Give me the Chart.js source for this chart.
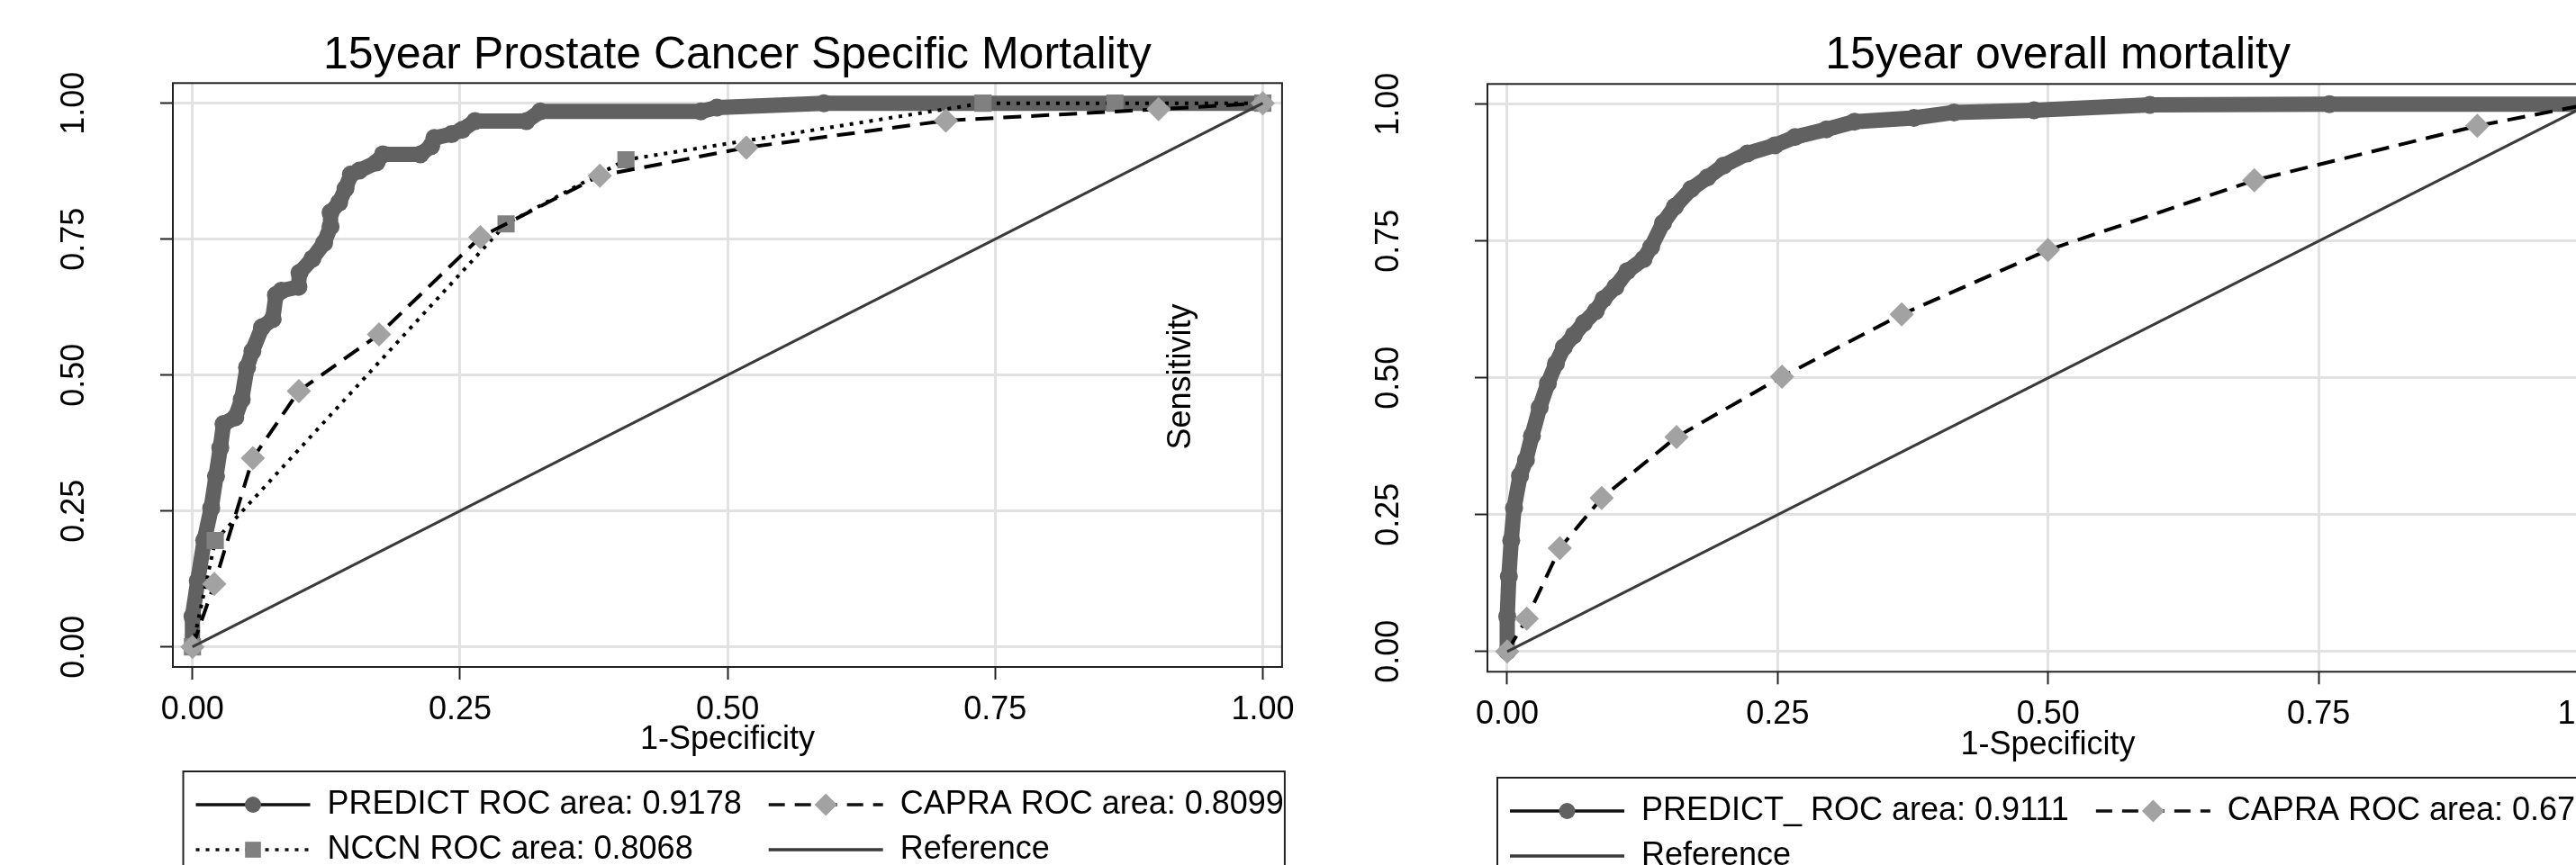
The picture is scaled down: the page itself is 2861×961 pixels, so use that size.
<!DOCTYPE html>
<html>
<head>
<meta charset="utf-8">
<title>ROC curves</title>
<script src="https://cdn.jsdelivr.net/npm/chart.js@4.4.1/dist/chart.umd.min.js"></script>
<style>
  html, body { margin: 0; padding: 0; background: #fff; }
  body { width: 2861px; height: 961px; overflow: hidden; position: relative; }
  canvas { position: absolute; top: 0; }
  #pcsm { left: 0; }
  #overall { left: 1460px; }
</style>
</head>
<body>
<canvas id="pcsm" width="1450" height="961"></canvas>
<canvas id="overall" width="1463" height="961"></canvas>
<script>
// axis ticks, same on both panels and both axes
const tickValues = [0, 0.25, 0.5, 0.75, 1];
const tickLabels = ['0.00', '0.25', '0.50', '0.75', '1.00'];

// 15 year prostate cancer specific mortality
const pcsmPredictX = [0, 0, 0.005, 0.011, 0.0175, 0.022, 0.026, 0.029, 0.040, 0.046, 0.051, 0.056, 0.065, 0.075, 0.078, 0.083, 0.099, 0.100, 0.112, 0.123, 0.129, 0.129, 0.137, 0.143, 0.148, 0.156, 0.172, 0.178, 0.213, 0.223, 0.226, 0.242, 0.252, 0.264, 0.312, 0.325, 0.475, 0.49, 0.59, 1.0];
const pcsmPredictY = [0, 0.056, 0.122, 0.196, 0.255, 0.314, 0.366, 0.41, 0.422, 0.455, 0.514, 0.544, 0.588, 0.603, 0.647, 0.655, 0.662, 0.688, 0.714, 0.743, 0.773, 0.799, 0.817, 0.843, 0.869, 0.876, 0.891, 0.906, 0.906, 0.921, 0.936, 0.943, 0.951, 0.967, 0.967, 0.985, 0.985, 0.992, 1.0, 1.0];
const pcsmCapraX = [0, 0.0204, 0.0564, 0.0994, 0.1743, 0.269, 0.3806, 0.5175, 0.7039, 0.9026, 1.0];
const pcsmCapraY = [0, 0.1157, 0.347, 0.4705, 0.5747, 0.7536, 0.8667, 0.9184, 0.968, 0.989, 1.0];
const pcsmNccnX = [0, 0.0213, 0.293, 0.405, 0.7386, 0.8618, 1.0];
const pcsmNccnY = [0, 0.1955, 0.778, 0.896, 1.0, 1.0, 1.0];

// 15 year overall mortality
const overallPredictX = [0, 0, 0.0015, 0.0037, 0.0063, 0.0118, 0.0173, 0.0228, 0.030, 0.0376, 0.045, 0.0523, 0.0615, 0.0707, 0.0818, 0.089, 0.100, 0.111, 0.126, 0.133, 0.144, 0.155, 0.170, 0.185, 0.200, 0.222, 0.2475, 0.266, 0.295, 0.321, 0.376, 0.413, 0.487, 0.594, 0.76, 1.0];
const overallPredictY = [0, 0.064, 0.137, 0.203, 0.262, 0.321, 0.350, 0.394, 0.446, 0.490, 0.526, 0.556, 0.578, 0.600, 0.622, 0.644, 0.666, 0.695, 0.717, 0.739, 0.783, 0.813, 0.845, 0.866, 0.888, 0.910, 0.925, 0.940, 0.954, 0.968, 0.975, 0.985, 0.989, 0.999, 1.0, 1.0];
const overallCapraX = [0, 0.018, 0.0486, 0.0873, 0.1565, 0.254, 0.3646, 0.4998, 0.6906, 0.8967, 1.0];
const overallCapraY = [0, 0.060, 0.1887, 0.2805, 0.392, 0.502, 0.616, 0.7335, 0.861, 0.9605, 1.0];

// diagonal reference line
const referenceX = [0, 1];
const referenceY = [0, 1];

const FONT = '"Liberation Sans", Arial, Helvetica, sans-serif';
Chart.defaults.font.family = FONT;
Chart.defaults.color = '#000';

function points(xs, ys) {
  return xs.map((x, i) => ({ x: x, y: ys[i] }));
}

function drawMarker(ctx, style, x, y, r, color) {
  ctx.fillStyle = color;
  ctx.beginPath();
  if (style === 'circle') {
    ctx.arc(x, y, r, 0, Math.PI * 2);
  } else if (style === 'rectRot') {
    ctx.moveTo(x - r, y);
    ctx.lineTo(x, y - r);
    ctx.lineTo(x + r, y);
    ctx.lineTo(x, y + r);
    ctx.closePath();
  } else {
    const s = r * Math.SQRT1_2;
    ctx.rect(x - s, y - s, 2 * s, 2 * s);
  }
  ctx.fill();
}

// box round the plot region, and nudge the title a little right like stata does
const framePlugin = {
  id: 'plotFrame',
  afterLayout(chart, args, opts) {
    if (chart.titleBlock && opts.titleShift) {
      chart.titleBlock.left += opts.titleShift;
      chart.titleBlock.right += opts.titleShift;
    }
  },
  beforeDatasetsDraw(chart) {
    const { ctx, chartArea: a } = chart;
    ctx.save();
    ctx.strokeStyle = '#222';
    ctx.lineWidth = 2;
    ctx.strokeRect(a.left, a.top, a.right - a.left, a.bottom - a.top);
    ctx.restore();
  }
};

// stata style legend: boxed, two columns, line + marker keys
const legendPlugin = {
  id: 'stataLegend',
  afterDraw(chart, args, opts) {
    const ctx = chart.ctx;
    const sets = opts.order.map(i => chart.data.datasets[i]);
    ctx.save();
    ctx.font = '36px ' + FONT;
    const colW = [0, 0];
    sets.forEach((ds, k) => {
      colW[k % 2] = Math.max(colW[k % 2], ctx.measureText(ds.label).width);
    });
    const keyLen = 127, keyPad = 14, textGap = 19, colGap = 30;
    const colX = [opts.left + keyPad, opts.left + keyPad + keyLen + textGap + colW[0] + colGap];
    const right = colX[1] + keyLen + textGap + colW[1] + 1;
    ctx.strokeStyle = '#222';
    ctx.lineWidth = 2;
    ctx.strokeRect(opts.left, opts.top, right - opts.left, 200);
    sets.forEach((ds, k) => {
      const x = colX[k % 2];
      const y = opts.top + opts.rows[Math.floor(k / 2)];
      const key = ds.key;
      ctx.beginPath();
      ctx.setLineDash(key.dash || []);
      ctx.lineWidth = key.width;
      ctx.strokeStyle = key.color;
      ctx.moveTo(x, y);
      ctx.lineTo(x + keyLen, y);
      ctx.stroke();
      ctx.setLineDash([]);
      if (key.marker) drawMarker(ctx, key.marker, x + keyLen / 2, y, key.size, key.fill);
      ctx.fillStyle = '#000';
      ctx.textBaseline = 'middle';
      ctx.textAlign = 'left';
      ctx.fillText(ds.label, x + keyLen + textGap, y);
    });
    ctx.restore();
  }
};

// the y title sits inside the plot in the original
const sideLabelPlugin = {
  id: 'sideLabel',
  afterDatasetsDraw(chart, args, opts) {
    if (!opts.text) return;
    const ctx = chart.ctx;
    ctx.save();
    ctx.translate(chart.scales.x.getPixelForValue(opts.atX), chart.scales.y.getPixelForValue(opts.atY));
    ctx.rotate(-Math.PI / 2);
    ctx.font = '36px ' + FONT;
    ctx.fillStyle = '#000';
    ctx.textAlign = 'center';
    ctx.textBaseline = 'alphabetic';
    ctx.fillText(opts.text, 0, 0);
    ctx.restore();
  }
};

function predictSet(label, xs, ys) {
  return {
    label: label, data: points(xs, ys), showLine: true, order: 3,
    borderColor: '#616161', borderWidth: 17, borderJoinStyle: 'round', borderCapStyle: 'round',
    pointStyle: 'circle', pointRadius: 10, pointBackgroundColor: '#616161', pointBorderWidth: 0,
    key: { color: '#111', width: 3.5, marker: 'circle', size: 9, fill: '#616161' }
  };
}
function capraSet(label, xs, ys) {
  return {
    label: label, data: points(xs, ys), showLine: true, order: 1,
    borderColor: '#000', borderWidth: 4, borderDash: [20, 11],
    pointStyle: 'rectRot', pointRadius: 13.5, pointBackgroundColor: '#a2a2a2', pointBorderWidth: 0,
    key: { color: '#111', width: 3.5, dash: [18, 11], marker: 'rectRot', size: 12.5, fill: '#a2a2a2' }
  };
}
function nccnSet(label, xs, ys) {
  return {
    label: label, data: points(xs, ys), showLine: true, order: 2,
    borderColor: '#000', borderWidth: 4, borderDash: [4, 7],
    pointStyle: 'rect', pointRadius: 13.5, pointBackgroundColor: '#808080', pointBorderWidth: 0,
    key: { color: '#111', width: 3.5, dash: [4, 7], marker: 'rect', size: 12.5, fill: '#808080' }
  };
}
function referenceSet() {
  return {
    label: 'Reference', data: points(referenceX, referenceY), showLine: true, order: 0,
    borderColor: '#3a3a3a', borderWidth: 3, pointRadius: 0,
    key: { color: '#3a3a3a', width: 3.5 }
  };
}

function axis(cfg, isX) {
  const a = {
    type: 'linear',
    min: isX ? -0.0183 : -0.037,
    max: isX ? 1.018 : 1.037,
    afterBuildTicks: s => { s.ticks = tickValues.map(v => ({ value: v })); },
    grid: { color: '#e2e2e2', lineWidth: 3, tickColor: '#222', tickWidth: 2, tickLength: 14 },
    border: { display: false },
    ticks: { font: { size: 36 }, autoSkip: false, callback: (v, i) => tickLabels[i] }
  };
  if (isX) {
    a.afterFit = s => { s.height = cfg.xAxisHeight; };
    a.ticks.padding = 12;
    a.ticks.maxRotation = 0;
    a.title = { display: true, text: '1-Specificity', font: { size: 36 }, padding: { top: 0, bottom: 17 } };
  } else {
    a.afterFit = s => { s.width = 192; };
    a.ticks.minRotation = 90;
    a.ticks.maxRotation = 90;
    a.ticks.crossAlign = 'center';
    a.ticks.padding = 60;
  }
  return a;
}

function rocChart(id, cfg) {
  return new Chart(document.getElementById(id), {
    type: 'scatter',
    data: { datasets: cfg.datasets },
    options: {
      responsive: false,
      animation: false,
      devicePixelRatio: 1,
      events: [],
      layout: { padding: { left: 0, right: 14, top: 0, bottom: cfg.padBottom } },
      elements: { line: { tension: 0 } },
      plugins: {
        legend: { display: false },
        tooltip: { enabled: false },
        title: {
          display: true, text: cfg.title, fullSize: false, color: '#000',
          font: { size: 50, weight: 'normal', lineHeight: 1.2 },
          padding: { top: cfg.titleTop, bottom: cfg.titleBottom }
        },
        plotFrame: { titleShift: 11 },
        stataLegend: { left: cfg.legendLeft, top: cfg.legendTop, rows: [37, 87], order: cfg.legendOrder },
        sideLabel: cfg.sideLabel
      },
      scales: { x: axis(cfg, true), y: axis(cfg, false) }
    },
    plugins: [framePlugin, legendPlugin, sideLabelPlugin]
  });
}

rocChart('pcsm', {
  title: '15year Prostate Cancer Specific Mortality',
  datasets: [
    predictSet('PREDICT ROC area: 0.9178', pcsmPredictX, pcsmPredictY),
    nccnSet('NCCN ROC area: 0.8068', pcsmNccnX, pcsmNccnY),
    capraSet('CAPRA ROC area: 0.8099', pcsmCapraX, pcsmCapraY),
    referenceSet()
  ],
  legendOrder: [0, 2, 1, 3],
  titleTop: 32, titleBottom: 0.3,
  xAxisHeight: 120, padBottom: 100,
  legendLeft: 203.5, legendTop: 857,
  sideLabel: { text: 'Sensitivity', atX: 0.932, atY: 0.497 }
});

rocChart('overall', {
  title: '15year overall mortality',
  datasets: [
    predictSet('PREDICT_ ROC area: 0.9111', overallPredictX, overallPredictY),
    capraSet('CAPRA ROC area: 0.6759', overallCapraX, overallCapraY),
    referenceSet()
  ],
  legendOrder: [0, 1, 2],
  titleTop: 32.5, titleBottom: 0.8,
  xAxisHeight: 120.7, padBottom: 94,
  legendLeft: 203, legendTop: 864,
  sideLabel: { text: '' }
});
</script>
</body>
</html>
